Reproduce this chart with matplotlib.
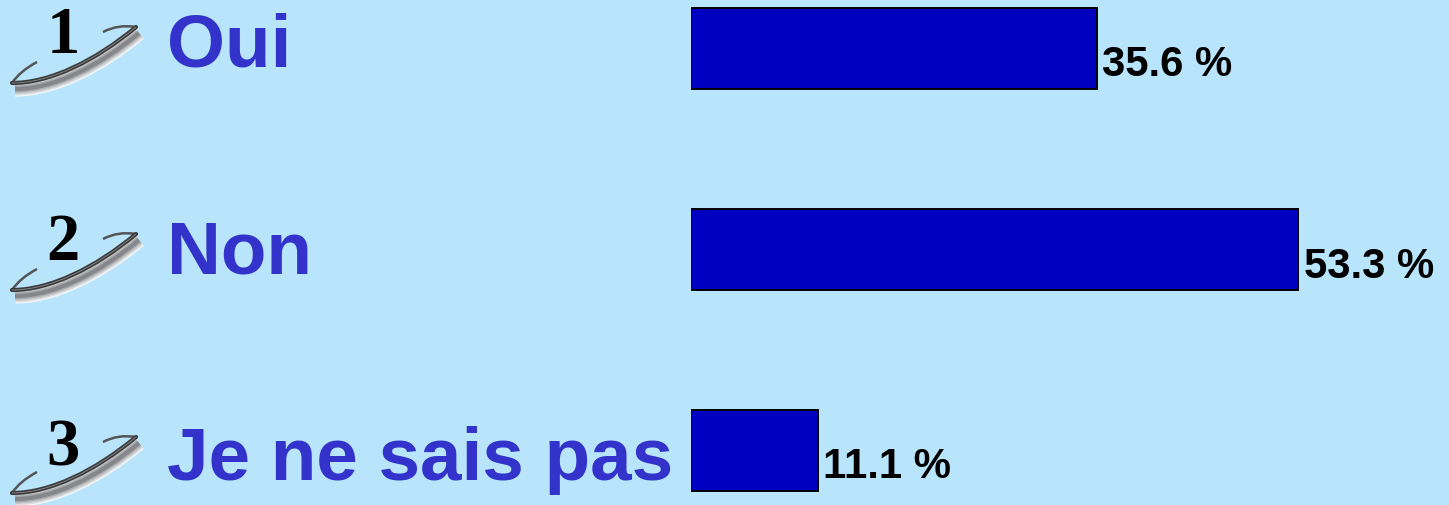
import matplotlib
matplotlib.use("Agg")
import matplotlib.pyplot as plt
from matplotlib.patches import PathPatch
from matplotlib.path import Path
from matplotlib.transforms import Affine2D

plt.rcParams['font.family'] = ['Liberation Sans', 'DejaVu Sans']

labels = ["Oui", "Non", "Je ne sais pas"]
numbers = ["1", "2", "3"]
values = [35.6, 53.3, 11.1]
positions = [0, 1, 2]

bg = "#b8e5fc"
W, H = 1449, 506

fig = plt.figure(figsize=(W / 100, H / 100), dpi=100, facecolor=bg)

# bars
ax = fig.add_axes([691 / W, 0, 607.5 / W, 1])
ax.set_facecolor("none")
ax.barh(positions, values, height=81 / 201, color="#0000c0", edgecolor="black", linewidth=1.4)
ax.set_xlim(0, 53.3)
ax.set_ylim((506 - 49.5) / 201, -49.5 / 201)
ax.axis("off")
for p, v in zip(positions, values):
    ax.annotate(f"{v} %", (v, p), xytext=(5, -27), textcoords="offset pixels", ha="left", va="baseline",
                fontsize=30.2, fontweight="bold", color="black", annotation_clip=False)

# labels and swoosh icons, in pixel coordinates
ov = fig.add_axes([0, 0, 1, 1])
ov.set_xlim(0, W)
ov.set_ylim(H, 0)
ov.axis("off")
ov.patch.set_alpha(0)

label_base = [66, 273, 480]
num_base = [53, 260, 466]
icon_shift = [0, 207, 410]

body = Path([(12, 84), (50, 84), (95, 62), (136, 28)], [Path.MOVETO, Path.CURVE4, Path.CURVE4, Path.CURVE4])
left_hook = Path([(12, 84), (20, 72), (37, 63)], [Path.MOVETO, Path.CURVE3, Path.CURVE3])
right_hook = Path([(136, 28), (118, 25), (103, 33)], [Path.MOVETO, Path.CURVE3, Path.CURVE3])

for base, nbase, shift, n, lab in zip(label_base, num_base, icon_shift, numbers, labels):
    tr = Affine2D().translate(0, shift) + ov.transData
    off = Affine2D().translate(3, shift + 6) + ov.transData
    # white halo then soft grey shadow under the arc
    for lw, col in zip([11, 9, 7, 5, 3], ["#f2f6f8", "#dcdee0", "#c4c6c8", "#a8aaac", "#85878a"]):
        ov.add_patch(PathPatch(body, fill=False, edgecolor=col, linewidth=lw, capstyle="butt", transform=off))
    for hook in [left_hook, right_hook]:
        ov.add_patch(PathPatch(hook, fill=False, edgecolor="#555555", linewidth=1.8, transform=tr))
    ov.add_patch(PathPatch(body, fill=False, edgecolor="#3a3a3a", linewidth=3, capstyle="round", transform=tr))
    ov.add_patch(PathPatch(body, fill=False, edgecolor="#8c8c8c", linewidth=0.6, transform=tr))
    ov.text(63, nbase, n, family="Liberation Serif", fontsize=48, fontweight="bold", color="black",
            ha="center", va="baseline")
    ov.text(167, base, lab, fontsize=53.7, fontweight="bold", color="#3333cc", ha="left", va="baseline")

fig.savefig("out.png", dpi=100, facecolor=bg)
